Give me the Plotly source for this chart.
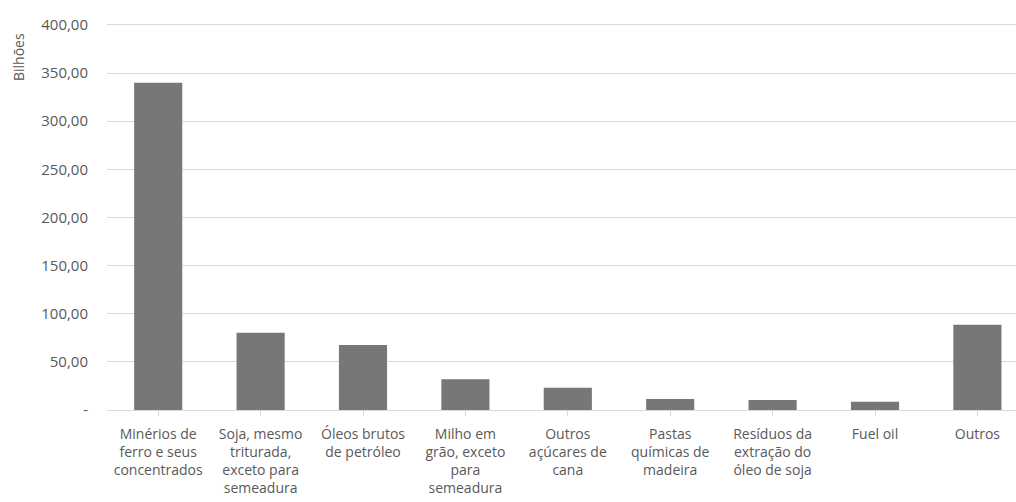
import plotly.graph_objects as go

categories = [
    "Minérios de<br>ferro e seus<br>concentrados",
    "Soja, mesmo<br>triturada,<br>exceto para<br>semeadura",
    "Óleos brutos<br>de petróleo",
    "Milho em<br>grão, exceto<br>para<br>semeadura",
    "Outros<br>açúcares de<br>cana",
    "Pastas<br>químicas de<br>madeira",
    "Resíduos da<br>extração do<br>óleo de soja",
    "Fuel oil",
    "Outros",
]
values = [340.0, 80.3, 67.5, 31.9, 23.2, 11.4, 10.4, 8.6, 88.6]

y_tickvals = [0, 50, 100, 150, 200, 250, 300, 350, 400]
y_ticktext = ["-", "50,00", "100,00", "150,00", "200,00", "250,00", "300,00", "350,00", "400,00"]

font_family = "Open Sans, Liberation Sans, sans-serif"
text_color = "#595959"

L, R, T, B = 107, 0, 23, 92
W, H = 1016, 502

fig = go.Figure(
    go.Bar(
        x=list(range(len(categories))),
        y=values,
        width=0.47,
        marker=dict(color="#777777", line=dict(width=0)),
    )
)

plot_w = W - L - R
plot_h = H - T - B

fig.update_layout(
    width=W,
    height=H,
    margin=dict(l=L, r=R, t=T, b=B),
    paper_bgcolor="white",
    plot_bgcolor="white",
    showlegend=False,
    font=dict(family=font_family, color=text_color, size=13),
    xaxis=dict(
        tickmode="array",
        tickvals=list(range(len(categories))),
        ticktext=categories,
        range=[-0.5, 8.377],
        showgrid=False,
        showline=True,
        linecolor="#d9d9d9",
        linewidth=1,
        ticks="outside",
        tickson="boundaries",
        ticklen=5,
        tickcolor="#d9d9d9",
        ticklabelstandoff=6,
        tickfont=dict(size=14, color=text_color),
        zeroline=False,
        fixedrange=True,
    ),
    yaxis=dict(
        range=[0, 402],
        tickmode="array",
        tickvals=y_tickvals,
        ticktext=y_ticktext,
        showgrid=True,
        gridcolor="#d9d9d9",
        gridwidth=1,
        zeroline=False,
        showline=False,
        ticks="",
        ticklabelstandoff=18,
        tickfont=dict(size=15, color=text_color),
        fixedrange=True,
    ),
    annotations=[
        dict(
            text="Bilhões",
            x=(18 - L) / plot_w,
            y=(H - B - 57) / plot_h,
            xref="paper",
            yref="paper",
            xanchor="center",
            yanchor="middle",
            showarrow=False,
            textangle=-90,
            font=dict(size=14, color=text_color, family=font_family),
        )
    ],
)

fig.write_html("out.html")
